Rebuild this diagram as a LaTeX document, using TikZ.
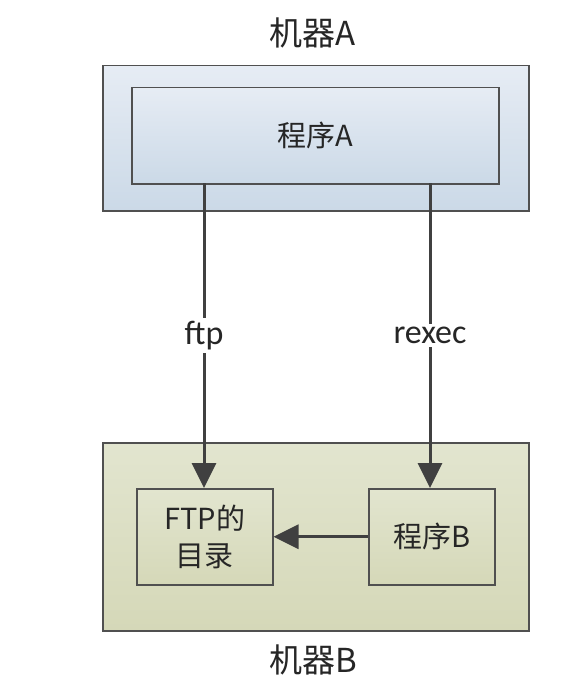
\documentclass[tikz,border=0pt]{standalone}
\usepackage{fontspec}
\setmainfont{Carlito}
\newfontfamily\cjk{Noto Sans CJK SC}
\usetikzlibrary{arrows.meta}
\definecolor{edge}{HTML}{505050}
\definecolor{arr}{HTML}{404040}
\definecolor{bluetop}{HTML}{E6ECF4}
\definecolor{bluebot}{HTML}{CBD9E7}
\definecolor{olivetop}{HTML}{E2E5CF}
\definecolor{olivebot}{HTML}{D5D8B8}
\begin{document}
\begin{tikzpicture}[x=1pt,y=-1pt,
  box/.style={draw=edge,line width=1.5pt,inner sep=0pt,anchor=north west},
  bluebox/.style={box,top color=bluetop,bottom color=bluebot},
  olivebox/.style={box,top color=olivetop,bottom color=olivebot},
  lbl/.style={font=\cjk\fontsize{33}{38}\selectfont,text=black!85},
  txt/.style={font=\cjk\fontsize{29}{37}\selectfont,text=black!85},
  connlbl/.style={fill=white,inner sep=3pt,text=black!85,font=\fontsize{34}{38}\selectfont},
  conn/.style={draw=arr,line width=3pt,-{Triangle[length=25pt,width=24pt]}}]
\useasboundingbox[fill=white] (0,0) rectangle (568,682);
% machine A
\node[bluebox,minimum width=426pt,minimum height=145pt] (ma) at (102,65) {};
\node[bluebox,minimum width=367pt,minimum height=96pt] (pa) at (131,87) {};
\node[txt] at (pa.center) {程序A};
\node[lbl] (la) at (313,33) {机器A};
% machine B
\node[olivebox,minimum width=426pt,minimum height=188pt] (mb) at (102,442) {};
\node[olivebox,minimum width=136pt,minimum height=96pt] (ftp) at (136,488) {};
\node[txt,align=center] at (ftp.center) {FTP的\\目录};
\node[olivebox,minimum width=126pt,minimum height=96pt] (pb) at (368,488) {};
\node[txt] at (pb.center) {程序B};
\node[lbl] (lb) at (313,660) {机器B};
% connectors
\coordinate (s1) at (204,183);
\coordinate (s2) at (430,183);
\draw[conn] (s1) -- (s1 |- ftp.north) node[pos=0.5,connlbl] {ftp};
\draw[conn] (s2) -- (s2 |- pb.north) node[pos=0.5,connlbl] {rexec};
\draw[conn] (pb.west) -- (ftp.east);
\end{tikzpicture}
\end{document}
